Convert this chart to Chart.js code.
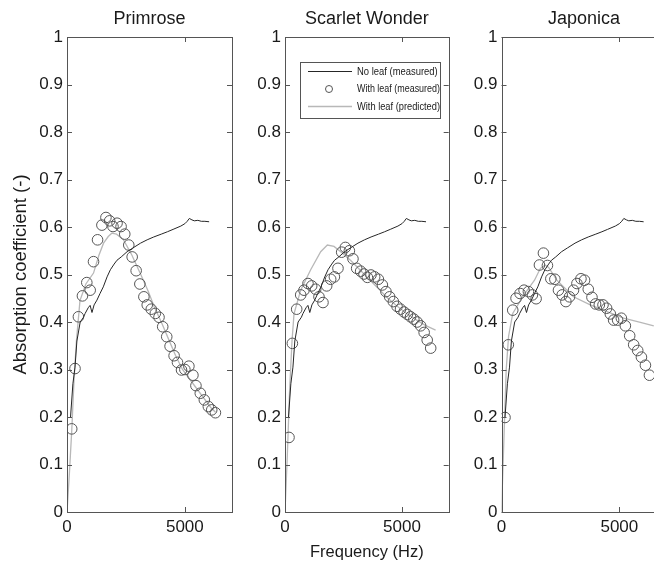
<!DOCTYPE html>
<html>
<head>
<meta charset="utf-8">
<script src="https://cdn.jsdelivr.net/npm/chart.js@4.4.0/dist/chart.umd.min.js"></script>
<style>
    html, body { margin: 0; padding: 0; background: #fff; overflow: hidden; width: 654px; height: 568px; }
    canvas { position: absolute; top: 0; }
</style>
</head>
<body>
<canvas id="g1" width="240" height="568" style="left:0px"></canvas>
<canvas id="g2" width="215" height="568" style="left:240px"></canvas>
<canvas id="g3" width="230" height="568" style="left:455px"></canvas>
<script>
// Eixos
const xTicks = [0, 5000];
const yTicks = [0, 0.1, 0.2, 0.3, 0.4, 0.5, 0.6, 0.7, 0.8, 0.9, 1];
const yTickLabels = ['0', '0.1', '0.2', '0.3', '0.4', '0.5', '0.6', '0.7', '0.8', '0.9', '1'];

const legendas = ['No leaf (measured)', 'With leaf (measured)', 'With leaf (predicted)'];

// Sem folha (medido) - igual nos tres paineis
const semFolhaFreq = [150, 250, 340, 420, 560, 700, 770, 900, 980, 1060, 1150, 1270, 1400, 1540, 1700, 1840, 2000, 2120, 2300, 2550, 2800, 3120, 3400, 3680, 4000, 4260, 4500, 4830, 5000, 5100, 5190, 5300, 5400, 5550, 5700, 5850, 6030];
const semFolhaAbs = [0.20, 0.27, 0.305, 0.36, 0.40, 0.41, 0.418, 0.43, 0.435, 0.42, 0.436, 0.446, 0.46, 0.474, 0.495, 0.51, 0.522, 0.53, 0.537, 0.548, 0.556, 0.566, 0.573, 0.579, 0.585, 0.59, 0.595, 0.602, 0.607, 0.612, 0.618, 0.615, 0.613, 0.614, 0.612, 0.612, 0.611];

// Primrose
const primroseMedFreq = [200, 340, 484, 655, 840, 983, 1125, 1296, 1481, 1652, 1809, 1951, 2123, 2294, 2450, 2621, 2764, 2934, 3091, 3262, 3404, 3575, 3746, 3903, 4060, 4231, 4373, 4544, 4687, 4858, 5000, 5171, 5342, 5470, 5655, 5826, 5997, 6140, 6296];
const primroseMedAbs = [0.175, 0.302, 0.411, 0.455, 0.483, 0.467, 0.527, 0.573, 0.604, 0.620, 0.613, 0.601, 0.608, 0.601, 0.585, 0.562, 0.537, 0.508, 0.480, 0.453, 0.436, 0.427, 0.418, 0.410, 0.390, 0.369, 0.349, 0.329, 0.315, 0.299, 0.300, 0.307, 0.288, 0.266, 0.250, 0.236, 0.222, 0.215, 0.209];
const primrosePrevFreq = [0, 100, 200, 300, 400, 550, 800, 1125, 1350, 1550, 1750, 1900, 2100, 2400, 2750, 3100, 3450, 3700, 4000, 4300, 4600, 4900, 5200, 5500, 5800, 6100, 6300];
const primrosePrevAbs = [0, 0.08, 0.17, 0.28, 0.36, 0.445, 0.48, 0.503, 0.54, 0.566, 0.58, 0.587, 0.585, 0.573, 0.541, 0.503, 0.464, 0.432, 0.40, 0.365, 0.33, 0.30, 0.28, 0.26, 0.24, 0.22, 0.21];

// Scarlet Wonder
const scarletMedFreq = [171, 315, 500, 671, 812, 983, 1141, 1312, 1453, 1624, 1782, 1953, 2111, 2265, 2423, 2581, 2752, 2906, 3065, 3235, 3376, 3522, 3676, 3834, 3992, 4163, 4317, 4475, 4633, 4790, 4940, 5090, 5230, 5370, 5510, 5650, 5800, 5950, 6080, 6230];
const scarletMedAbs = [0.157, 0.355, 0.427, 0.457, 0.467, 0.481, 0.476, 0.469, 0.453, 0.441, 0.476, 0.490, 0.495, 0.513, 0.547, 0.557, 0.550, 0.533, 0.513, 0.507, 0.501, 0.494, 0.499, 0.495, 0.490, 0.478, 0.464, 0.453, 0.443, 0.433, 0.427, 0.421, 0.416, 0.411, 0.406, 0.400, 0.392, 0.378, 0.362, 0.345];
const scarletPrevFreq = [0, 100, 200, 300, 385, 671, 1098, 1526, 1811, 2095, 2380, 2800, 3200, 3600, 4000, 4400, 4800, 5200, 5600, 6000, 6440];
const scarletPrevAbs = [0, 0.12, 0.26, 0.36, 0.417, 0.467, 0.51, 0.548, 0.562, 0.559, 0.548, 0.53, 0.51, 0.49, 0.47, 0.45, 0.433, 0.418, 0.405, 0.393, 0.383];

// Japonica
const japonicaMedFreq = [149, 290, 477, 617, 787, 957, 1141, 1311, 1468, 1609, 1779, 1949, 2093, 2264, 2417, 2574, 2732, 2885, 3055, 3200, 3370, 3523, 3681, 3838, 3991, 4149, 4306, 4459, 4617, 4757, 4927, 5085, 5255, 5438, 5608, 5778, 5936, 6106, 6276];
const japonicaMedAbs = [0.199, 0.352, 0.425, 0.45, 0.46, 0.467, 0.464, 0.457, 0.449, 0.52, 0.545, 0.519, 0.491, 0.49, 0.467, 0.457, 0.443, 0.453, 0.467, 0.481, 0.491, 0.488, 0.469, 0.452, 0.438, 0.436, 0.436, 0.429, 0.417, 0.404, 0.404, 0.408, 0.392, 0.371, 0.352, 0.34, 0.326, 0.309, 0.288];
const japonicaPrevFreq = [0, 100, 200, 300, 477, 950, 1400, 1650, 1850, 2000, 2349, 3055, 3766, 4476, 5183, 5893, 6460];
const japonicaPrevAbs = [0, 0.15, 0.30, 0.37, 0.418, 0.457, 0.488, 0.513, 0.52, 0.515, 0.488, 0.453, 0.436, 0.422, 0.408, 0.399, 0.392];

const corTexto = '#1a1a1a';
const corEixo = '#555';
Chart.defaults.font.family = "'Liberation Sans', Arial, sans-serif";

function pares(freq, abs) {
    return freq.map((f, i) => ({ x: f, y: abs[i] }));
}

// Caixa em volta do grafico e ticks para dentro (estilo MATLAB)
const caixaTicks = {
    id: 'caixaTicks',
    afterDatasetsDraw(chart) {
        const { ctx, chartArea: a, scales } = chart;
        ctx.save();
        ctx.strokeStyle = corEixo;
        ctx.lineWidth = 1;
        ctx.strokeRect(Math.round(a.left) + 0.5, Math.round(a.top) + 0.5, Math.round(a.right - a.left), Math.round(a.bottom - a.top));
        ctx.beginPath();
        scales.x.ticks.forEach(t => {
            const px = Math.round(scales.x.getPixelForValue(t.value)) + 0.5;
            ctx.moveTo(px, a.bottom); ctx.lineTo(px, a.bottom - 5);
            ctx.moveTo(px, a.top); ctx.lineTo(px, a.top + 5);
        });
        scales.y.ticks.forEach(t => {
            const py = Math.round(scales.y.getPixelForValue(t.value)) + 0.5;
            ctx.moveTo(a.left, py); ctx.lineTo(a.left + 5, py);
            ctx.moveTo(a.right, py); ctx.lineTo(a.right - 5, py);
        });
        ctx.stroke();
        ctx.restore();
    }
};

// Legenda dentro da area do grafico (so no painel do meio)
const legendaInterna = {
    id: 'legendaInterna',
    afterDraw(chart, args, opts) {
        if (!opts.mostrar) return;
        const { ctx } = chart;
        const x0 = opts.x, y0 = opts.y, w = opts.w, h = opts.h;
        ctx.save();
        ctx.fillStyle = '#fff';
        ctx.fillRect(x0, y0, w, h);
        ctx.strokeStyle = corEixo;
        ctx.lineWidth = 1;
        ctx.strokeRect(x0 + 0.5, y0 + 0.5, w, h);
        ctx.font = "11.5px 'Liberation Sans Narrow', 'Liberation Sans', sans-serif";
        ctx.textBaseline = 'middle';
        chart.data.datasets.forEach((ds, i) => {
            const y = y0 + 9.5 + i * 17.5;
            if (ds.showLine) {
                ctx.strokeStyle = ds.borderColor;
                ctx.lineWidth = ds.borderWidth;
                ctx.beginPath();
                ctx.moveTo(x0 + 8, y); ctx.lineTo(x0 + 52, y);
                ctx.stroke();
            } else {
                ctx.strokeStyle = ds.pointBorderColor;
                ctx.lineWidth = 1;
                ctx.beginPath();
                ctx.arc(x0 + 29, y, 3.5, 0, Math.PI * 2);
                ctx.stroke();
            }
            ctx.fillStyle = corTexto;
            // texto comprimido pra caber na caixa (fonte estreita)
            const larg = Math.min(ctx.measureText(ds.label).width * 0.82, w - 57);
            ctx.fillText(ds.label, x0 + 57, y, larg);
        });
        ctx.restore();
    }
};

function criarPainel(id, titulo, medFreq, medAbs, prevFreq, prevAbs, cfg) {
    const ctx = document.getElementById(id).getContext('2d');
    return new Chart(ctx, {
        type: 'scatter',
        data: {
            datasets: [
                {
                    label: legendas[0],
                    data: pares(semFolhaFreq, semFolhaAbs),
                    showLine: true,
                    borderColor: '#262626',
                    borderWidth: 1,
                    pointRadius: 0,
                    tension: 0
                },
                {
                    label: legendas[1],
                    data: pares(medFreq, medAbs),
                    showLine: false,
                    pointRadius: 5.3,
                    pointStyle: 'circle',
                    pointBackgroundColor: 'rgba(0,0,0,0)',
                    pointBorderColor: '#555',
                    pointBorderWidth: 1
                },
                {
                    label: legendas[2],
                    data: pares(prevFreq, prevAbs),
                    showLine: true,
                    borderColor: '#b8b8b8',
                    borderWidth: 1.3,
                    pointRadius: 0,
                    tension: 0
                }
            ]
        },
        options: {
            responsive: false,
            animation: false,
            layout: { padding: { left: 0, right: cfg.padDir, top: 0, bottom: 0 } },
            plugins: {
                legend: { display: false },
                tooltip: { enabled: false },
                title: { display: false },
                legendaInterna: cfg.legenda || { mostrar: false }
            },
            scales: {
                // eixo de cima so para o titulo do painel (centrado na area do grafico)
                topo: {
                    type: 'linear',
                    position: 'top',
                    min: 0,
                    max: 7000,
                    afterFit: s => { s.height = 37; },
                    ticks: { display: false },
                    grid: { display: false, drawTicks: false },
                    border: { display: false },
                    title: {
                        display: true,
                        text: titulo,
                        color: corTexto,
                        font: { size: 18 },
                        padding: { top: 8.5, bottom: 0 }
                    }
                },
                x: {
                    type: 'linear',
                    min: 0,
                    max: 7000,
                    afterBuildTicks: s => { s.ticks = xTicks.map(v => ({ value: v })); },
                    afterFit: s => { s.height = 56; },
                    ticks: { callback: v => String(v), padding: 5, color: corTexto, font: { size: 17 }, maxRotation: 0, autoSkip: false },
                    grid: { display: false, drawTicks: false },
                    border: { display: false },
                    title: {
                        display: !!cfg.tituloX,
                        text: cfg.tituloX || '',
                        color: corTexto,
                        font: { size: 16.5 },
                        padding: { top: 0, bottom: 6 }
                    }
                },
                y: {
                    min: 0,
                    max: 1,
                    afterBuildTicks: s => { s.ticks = yTicks.map(v => ({ value: v })); },
                    afterFit: s => { s.width = cfg.larguraY; },
                    ticks: { callback: (v, i) => yTickLabels[i], padding: 4, color: corTexto, font: { size: 17 }, autoSkip: false },
                    grid: { display: false, drawTicks: false },
                    border: { display: false },
                    title: {
                        display: !!cfg.tituloY,
                        text: cfg.tituloY || '',
                        color: corTexto,
                        font: { size: 18.5 },
                        padding: { top: 10, bottom: 0 }
                    }
                }
            }
        },
        plugins: [caixaTicks, legendaInterna]
    });
}

criarPainel('g1', 'Primrose', primroseMedFreq, primroseMedAbs, primrosePrevFreq, primrosePrevAbs,
    { larguraY: 67, padDir: 8, tituloY: 'Absorption coefficient (-)' });
criarPainel('g2', 'Scarlet Wonder', scarletMedFreq, scarletMedAbs, scarletPrevFreq, scarletPrevAbs,
    { larguraY: 45, padDir: 6, tituloX: 'Frequency (Hz)', legenda: { mostrar: true, x: 60, y: 62, w: 140, h: 56 } });
criarPainel('g3', 'Japonica', japonicaMedFreq, japonicaMedAbs, japonicaPrevFreq, japonicaPrevAbs,
    { larguraY: 46.5, padDir: 18.5 });
</script>
</body>
</html>
